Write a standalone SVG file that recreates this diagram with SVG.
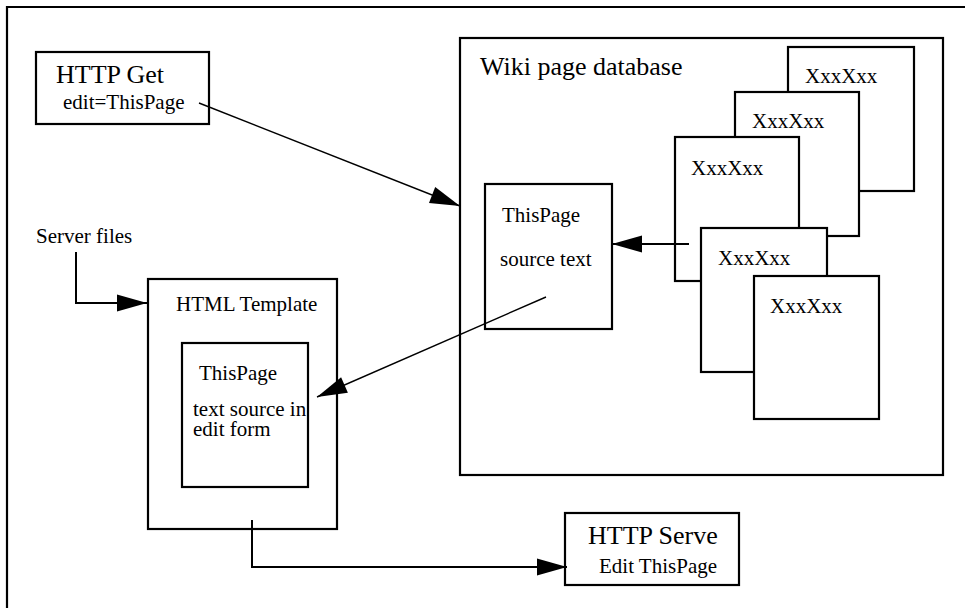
<svg xmlns="http://www.w3.org/2000/svg" width="965" height="608" viewBox="0 0 965 608">
<style>
.box{fill:#fff;stroke:#000;stroke-width:2.2}
.t{font-family:'Liberation Serif','DejaVu Serif',serif;fill:#000}
.lg{font-size:26px}
.sm{font-size:21px}
.ln{fill:none;stroke:#000;stroke-width:2}
.dg{fill:none;stroke:#000;stroke-width:1.4}
</style>
<defs>
<marker id="ah" markerUnits="userSpaceOnUse" markerWidth="30" markerHeight="17" refX="30" refY="8.5" orient="auto" overflow="visible">
<path d="M0,0 L30,8.5 L0,17 z" fill="#000"/>
</marker>
</defs>
<rect width="965" height="608" fill="#fff"/>
<path d="M7,608 V7 H965" fill="none" stroke="#000" stroke-width="2.2"/>

<g id="http-get">
<rect class="box" x="36" y="52" width="173" height="72"/>
<text class="t lg" x="56" y="83">HTTP Get</text>
<text class="t sm" x="63" y="109">edit=ThisPage</text>
</g>

<g id="wiki-db">
<rect class="box" x="460" y="38" width="483" height="437"/>
<text class="t lg" x="480" y="75">Wiki page database</text>
</g>

<g id="page1">
<rect class="box" x="788" y="47" width="126" height="144"/>
<text class="t sm" x="805" y="83">XxxXxx</text>
</g>
<g id="page2">
<rect class="box" x="735" y="92" width="124" height="144"/>
<text class="t sm" x="752" y="128">XxxXxx</text>
</g>
<g id="page3">
<rect class="box" x="675" y="137" width="124" height="144"/>
<text class="t sm" x="691" y="175">XxxXxx</text>
</g>
<g id="page4">
<rect class="box" x="701" y="228" width="126" height="144"/>
<text class="t sm" x="718" y="265">XxxXxx</text>
</g>
<g id="page5">
<rect class="box" x="754" y="276" width="125" height="143"/>
<text class="t sm" x="770" y="313">XxxXxx</text>
</g>

<g id="source-text">
<rect class="box" x="485" y="184" width="127" height="145"/>
<text class="t sm" x="502" y="222">ThisPage</text>
<text class="t sm" x="500" y="266">source text</text>
</g>

<g id="server-files">
<text class="t sm" x="36" y="243">Server files</text>
</g>

<g id="html-template">
<rect class="box" x="148" y="279" width="189" height="250"/>
<text class="t sm" x="176" y="311">HTML Template</text>
</g>

<g id="edit-form">
<rect class="box" x="182" y="343" width="126" height="144"/>
<text class="t sm" x="199" y="380">ThisPage</text>
<text class="t sm" x="193" y="416">text source in</text>
<text class="t sm" x="193" y="436">edit form</text>
</g>

<g id="http-serve">
<rect class="box" x="565" y="513" width="174" height="72"/>
<text class="t lg" x="588" y="544">HTTP Serve</text>
<text class="t sm" x="599" y="573">Edit ThisPage</text>
</g>

<g id="connectors">
<line class="dg" x1="199" y1="103" x2="460" y2="206" marker-end="url(#ah)"/>
<line class="ln" x1="689" y1="244" x2="612" y2="244" marker-end="url(#ah)"/>
<line class="dg" x1="546" y1="297" x2="317" y2="397" marker-end="url(#ah)"/>
<polyline class="ln" points="76,252 76,303 147,303" marker-end="url(#ah)"/>
<polyline class="ln" points="252,520 252,567 567,567" marker-end="url(#ah)"/>
</g>
</svg>
